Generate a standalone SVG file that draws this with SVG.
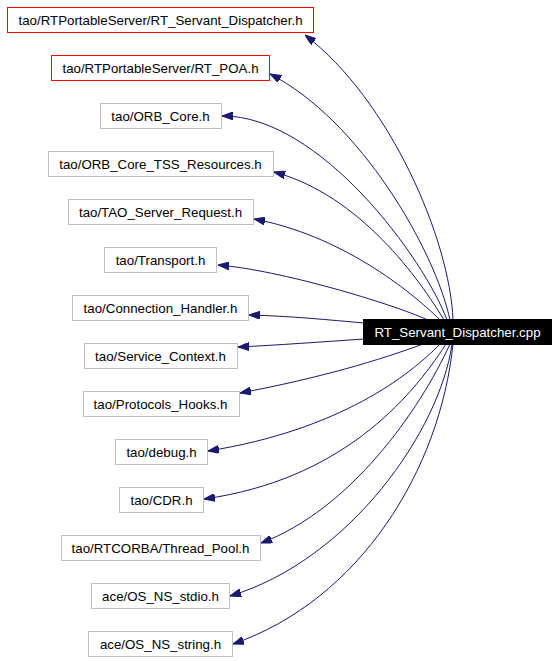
<svg xmlns="http://www.w3.org/2000/svg" width="557" height="661" viewBox="0 0 557 661">
<style>
.n rect{fill:#fff;stroke:#bfbfbf;stroke-width:1}
.n.r rect{stroke:#ff0000}
.n text{font-family:"Liberation Sans",Arial,sans-serif;font-size:13.3px;fill:#000;text-anchor:middle}
#root rect{fill:#000;stroke:#000}
#root text{fill:#fff}
#edges path{fill:none;stroke:#191970;stroke-width:1;marker-end:url(#ah)}
</style>
<defs>
<marker id="ah" markerUnits="userSpaceOnUse" viewBox="0 -4 11 8" refX="11" refY="0" markerWidth="11" markerHeight="8" orient="auto">
<polygon points="11,0 0,-4 0,4" fill="#191970" stroke="#191970" stroke-width="1"/>
</marker>
</defs>
<rect width="557" height="661" fill="#fff"/>
<g id="edges">
<path d="M453,320 C450,240 390,100 305,35"/>
<path d="M450,320 C435,250 360,120 270,74"/>
<path d="M447,320 C425,260 320,115 222,116"/>
<path d="M444,320 C420,280 360,195 274,172"/>
<path d="M440,320 C410,290 340,235 254,219"/>
<path d="M428,320 C390,303 280,270 218,265"/>
<path d="M364,323 C330,320 290,316 249,315"/>
<path d="M364,339 C320,342 280,345 238,347"/>
<path d="M423,344 C380,360 320,378 240,393"/>
<path d="M440,344 C410,375 340,430 208,451"/>
<path d="M446,344 C410,400 340,480 204,499"/>
<path d="M450,344 C420,410 350,510 261,543"/>
<path d="M452,344 C440,430 350,560 230,596"/>
<path d="M453,344 C440,470 360,600 233,644"/>
</g>
<g id="root" class="n"><rect x="363.5" y="319.5" width="188" height="25"/><text x="457.5" y="337">RT_Servant_Dispatcher.cpp</text></g>
<g id="n1" class="n r"><rect x="7.5" y="7.5" width="306" height="25"/><text x="160.5" y="25">tao/RTPortableServer/RT_Servant_Dispatcher.h</text></g>
<g id="n2" class="n r"><rect x="51.5" y="55.5" width="218" height="25"/><text x="160.5" y="73">tao/RTPortableServer/RT_POA.h</text></g>
<g id="n3" class="n"><rect x="100.5" y="103.5" width="121" height="25"/><text x="160.5" y="121">tao/ORB_Core.h</text></g>
<g id="n4" class="n"><rect x="48.5" y="151.5" width="225" height="25"/><text x="160.5" y="169">tao/ORB_Core_TSS_Resources.h</text></g>
<g id="n5" class="n"><rect x="68.5" y="199.5" width="185" height="25"/><text x="160.5" y="217">tao/TAO_Server_Request.h</text></g>
<g id="n6" class="n"><rect x="104.5" y="247.5" width="112" height="25"/><text x="160.5" y="265">tao/Transport.h</text></g>
<g id="n7" class="n"><rect x="72.5" y="295.5" width="176" height="25"/><text x="160.5" y="313">tao/Connection_Handler.h</text></g>
<g id="n8" class="n"><rect x="84.5" y="343.5" width="153" height="25"/><text x="160.5" y="361">tao/Service_Context.h</text></g>
<g id="n9" class="n"><rect x="83.5" y="391.5" width="156" height="25"/><text x="160.5" y="409">tao/Protocols_Hooks.h</text></g>
<g id="n10" class="n"><rect x="115.5" y="439.5" width="92" height="25"/><text x="161.5" y="457">tao/debug.h</text></g>
<g id="n11" class="n"><rect x="119.5" y="487.5" width="84" height="25"/><text x="161.5" y="505">tao/CDR.h</text></g>
<g id="n12" class="n"><rect x="61.5" y="535.5" width="199" height="25"/><text x="160.5" y="553">tao/RTCORBA/Thread_Pool.h</text></g>
<g id="n13" class="n"><rect x="91.5" y="583.5" width="138" height="25"/><text x="160.5" y="601">ace/OS_NS_stdio.h</text></g>
<g id="n14" class="n"><rect x="88.5" y="631.5" width="144" height="25"/><text x="160.5" y="649">ace/OS_NS_string.h</text></g>
</svg>
